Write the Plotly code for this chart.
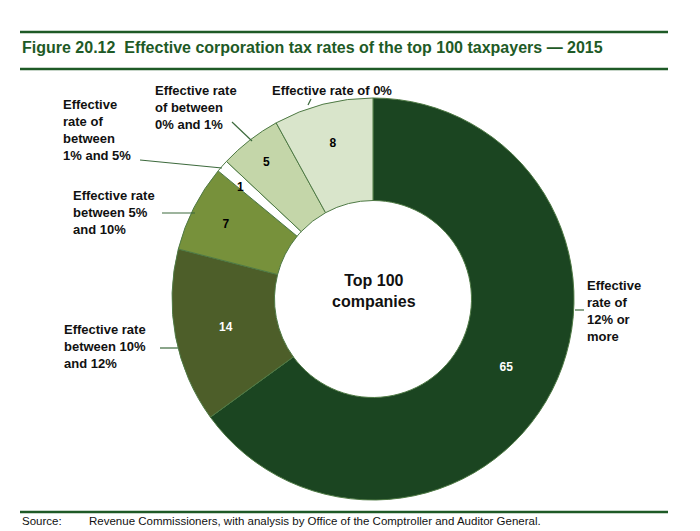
import plotly.graph_objects as go

# the page body keeps its default 8px margin, so the figure is drawn 8px in
OFF = 8
W, H = 700 - OFF, 531 - OFF

labels = ['Effective rate of 12% or more', 'Effective rate between 10% and 12%',
          'Effective rate between 5% and 10%', 'Effective rate of between 1% and 5%',
          'Effective rate of between 0% and 1%', 'Effective rate of 0%']
values = [65, 14, 7, 1, 5, 8]
colors = ['#1b4521', '#4d5e29', '#77913b', '#ffffff', '#c4d6a9', '#d9e5cb']
text_colors = ['white', 'white', 'black', 'black', 'black', 'black']

green = '#1e5a26'


def px(x):
    return (x - OFF) / W


def py(y):
    return 1 - (y - OFF) / H


# the 1-company slice is too thin for plotly to keep its label full size
slice_text = ['' if v == 1 else '<b>%d</b>' % v for v in values]

fig = go.Figure(go.Pie(
    labels=labels,
    values=values,
    sort=False,
    direction='clockwise',
    rotation=0,
    hole=0.49,
    marker=dict(colors=colors, line=dict(color='#4f7a45', width=1)),
    text=slice_text,
    textinfo='text',
    textposition='inside',
    insidetextorientation='horizontal',
    textfont=dict(family='Liberation Sans', size=12, color=text_colors),
    domain=dict(x=[px(172), px(574)], y=[py(500), py(98)]),
    showlegend=False,
))

# outer labels: (text, text x, text y, leader line)
outer = [
    ('Effective rate of 0%', 270, 81, (308, 105, 311, 99)),
    ('Effective rate<br>of between<br>0% and 1%', 153, 81, (252, 141, 232, 122)),
    ('Effective<br>rate of<br>between<br>1% and 5%', 61, 95, (222, 168, 140, 160)),
    ('Effective rate<br>between 5%<br>and 10%', 71, 186, (195, 213, 162, 213)),
    ('Effective rate<br>between 10%<br>and 12%', 62, 320, (178, 348, 160, 348)),
    ('Effective<br>rate of<br>12% or<br>more', 585, 276, (575, 310, 584, 310)),
]

annotations = []
shapes = []
for txt, tx, ty, ln in outer:
    annotations.append(dict(
        text='<b>' + txt + '</b>', x=px(tx), y=py(ty), xref='paper', yref='paper',
        xanchor='left', yanchor='top', align='left', showarrow=False,
        font=dict(family='Liberation Sans', size=13, color='#111111'),
    ))
    shapes.append(dict(type='line', xref='paper', yref='paper',
                       x0=px(ln[0]), y0=py(ln[1]), x1=px(ln[2]), y1=py(ln[3]),
                       line=dict(color='#3d6a3d', width=1.2)))

annotations.append(dict(
    text='<b>%d</b>' % values[3], x=px(235), y=py(178), xref='paper', yref='paper',
    showarrow=False, font=dict(family='Liberation Sans', size=12, color='black'),
))
annotations.append(dict(
    text='<b>Top 100<br>companies</b>', x=px(374), y=py(291), xref='paper', yref='paper',
    showarrow=False, font=dict(family='Liberation Sans', size=16, color='#111111'),
))
annotations.append(dict(
    text='<b>Figure 20.12  Effective corporation tax rates of the top 100 taxpayers \u2014 2015</b>',
    x=px(20), y=py(47), xref='paper', yref='paper', xanchor='left', yanchor='middle',
    showarrow=False, font=dict(family='Liberation Sans', size=16, color=green),
))
annotations.append(dict(
    text='Source:', x=px(20), y=py(521), xref='paper', yref='paper',
    xanchor='left', yanchor='middle', showarrow=False,
    font=dict(family='Liberation Sans', size=11.5, color='#111111'),
))
annotations.append(dict(
    text='Revenue Commissioners, with analysis by Office of the Comptroller and Auditor General.',
    x=px(87), y=py(521), xref='paper', yref='paper', xanchor='left', yanchor='middle',
    showarrow=False, font=dict(family='Liberation Sans', size=11.5, color='#111111'),
))

for yy in (32, 69, 512):
    shapes.append(dict(type='line', xref='paper', yref='paper',
                       x0=px(20), x1=px(668), y0=py(yy), y1=py(yy),
                       line=dict(color=green, width=2.5)))

fig.update_layout(
    width=W, height=H,
    margin=dict(l=0, r=0, t=0, b=0),
    paper_bgcolor='white',
    plot_bgcolor='white',
    annotations=annotations,
    shapes=shapes,
)

fig.write_html('out.html')
